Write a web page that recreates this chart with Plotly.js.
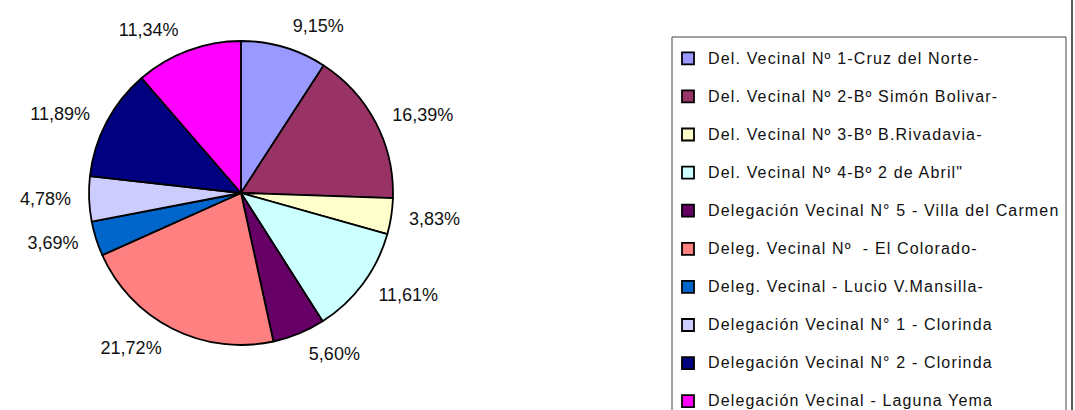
<!DOCTYPE html>
<html>
<head>
<meta charset="utf-8">
<script src="https://cdn.plot.ly/plotly-3.0.1.min.js"></script>
<style>
  html, body { margin: 0; padding: 0; background: #fff; }
  #chart { width: 1075px; height: 410px; }
  .legendtext { letter-spacing: 1.15px; }
</style>
</head>
<body>
<div id="chart"></div>
<script>
const categories = [
  "Del. Vecinal Nº 1-Cruz del Norte-",
  "Del. Vecinal Nº 2-Bº Simón Bolivar-",
  "Del. Vecinal Nº 3-Bº B.Rivadavia-",
  "Del. Vecinal Nº 4-Bº 2 de Abril\"",
  "Delegación Vecinal N° 5 - Villa del Carmen",
  "Deleg. Vecinal Nº  - El Colorado-",
  "Deleg. Vecinal - Lucio V.Mansilla-",
  "Delegación Vecinal N° 1 - Clorinda",
  "Delegación Vecinal N° 2 - Clorinda",
  "Delegación Vecinal - Laguna Yema"
];
const percentages = [9.15, 16.39, 3.83, 11.61, 5.60, 21.72, 3.69, 4.78, 11.89, 11.34];
const sliceColors = ["#9999FF", "#993366", "#FFFFCC", "#CCFFFF", "#660066",
                     "#FF8080", "#0066CC", "#CCCCFF", "#000080", "#FF00FF"];

const W = 1075, H = 410;
const legendLabels = categories.map((c, i) =>
  '<span style="font-size:16px">' + c.replace(/  /g, '\u00a0 ') + '</span>' +
  (i < categories.length - 1 ? '<br>\u00a0' : ''));

// visible pie (slices + legend)
const pieTrace = {
  type: 'pie',
  labels: legendLabels,
  values: percentages,
  sort: false,
  direction: 'clockwise',
  rotation: 0,
  marker: { colors: sliceColors, line: { color: '#000000', width: 1.8 } },
  textinfo: 'none',
  automargin: false,
  hoverinfo: 'none',
  domain: { x: [89 / W, 393 / W], y: [1 - 345 / H, 1 - 41 / H] }
};

// same data on a slightly larger transparent ring: carries the outside percentage labels
const labelTrace = {
  type: 'pie',
  labels: legendLabels,
  values: percentages,
  sort: false,
  direction: 'clockwise',
  rotation: 0,
  showlegend: false,
  marker: { colors: sliceColors.map(() => 'rgba(0,0,0,0)'), line: { width: 0 } },
  texttemplate: '%{value:.2f}%',
  textposition: 'outside',
  outsidetextfont: { family: 'Liberation Sans, Arial, sans-serif', size: 18, color: '#111' },
  automargin: false,
  hoverinfo: 'none',
  domain: { x: [76 / W, 406 / W], y: [1 - 358 / H, 1 - 28 / H] }
};

const layout = {
  width: W, height: H,
  margin: { l: 0, r: 0, t: 0, b: 0, pad: 0, autoexpand: false },
  paper_bgcolor: '#ffffff',
  plot_bgcolor: '#ffffff',
  separators: ',.',
  font: { family: 'Liberation Sans, Arial, sans-serif', color: '#111' },
  showlegend: true,
  legend: {
    x: 668 / W, xanchor: 'left',
    y: 1 - 43 / H, yanchor: 'top',
    bgcolor: 'rgba(0,0,0,0)',
    borderwidth: 0,
    font: { size: 13.5, color: '#111', family: 'Liberation Sans, Arial, sans-serif' },
    valign: 'top',
    traceorder: 'normal'
  },
  shapes: [
    { type: 'rect', xref: 'paper', yref: 'paper',
      x0: 672 / W, x1: 1066 / W, y0: -0.1, y1: 1 - 37 / H,
      line: { color: '#444', width: 1 }, fillcolor: 'rgba(0,0,0,0)' },
    { type: 'line', xref: 'paper', yref: 'paper',
      x0: 1072 / W, x1: 1072 / W, y0: 0, y1: 1,
      line: { color: '#222', width: 1.5 } }
  ]
};

Plotly.newPlot('chart', [pieTrace, labelTrace], layout, { displayModeBar: false, staticPlot: true });
</script>
</body>
</html>
